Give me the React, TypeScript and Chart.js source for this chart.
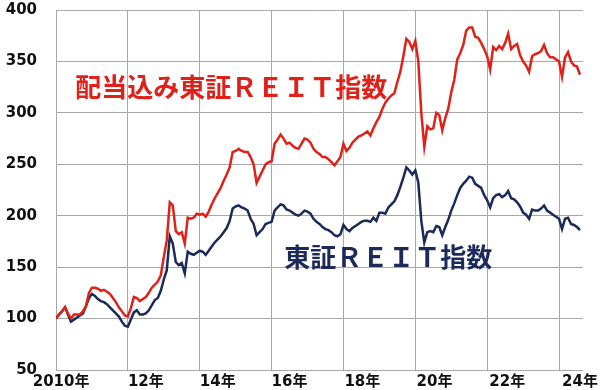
import React, { useEffect, useRef } from "react";
import { Chart, registerables } from "chart.js";

Chart.register(...registerables);

// Monthly values, Jan 2010 = 100, through Aug 2024
const tseReitTotalReturn: number[] = [
  100, 104, 107, 111, 105, 100, 104, 104, 104, 107, 112, 125,
  130, 130, 129, 127, 128, 126, 124, 120, 116, 111, 107, 103,
  102, 110, 121, 120, 117, 119, 121, 125, 130, 133, 136, 142,
  160, 176, 213, 210, 185, 182, 184, 173, 198, 197, 198, 202,
  201, 202, 199, 204, 211, 217, 222, 227, 234, 240, 247, 262,
  263, 265, 263, 262, 262, 257, 250, 232, 238, 244, 250, 252,
  253, 270, 274, 279, 275, 270, 271, 268, 266, 265, 270, 275,
  274, 271, 265, 262, 260, 257, 257, 255, 252, 249, 253, 257,
  270, 263, 266, 271, 274, 277, 278, 280, 282, 278, 285, 291,
  296, 304, 310, 314, 317, 319, 330, 340, 355, 372, 369, 362,
  370, 350, 300, 267, 287, 284, 285, 300, 298, 283, 295, 304,
  320, 332, 352, 358, 366, 380, 383, 383, 374, 373, 368, 362,
  355, 342, 364, 361, 365, 362, 368, 377, 362, 365, 367, 356,
  350, 346, 340, 355, 357, 358, 360, 366, 358, 354, 354, 352,
  350, 335, 354, 359, 350, 346, 345, 337,
];

const tseReitIndex: number[] = [
  100, 104, 107, 111, 104, 97, 99, 101, 103, 105, 112, 120,
  124, 122, 119, 117, 116, 114, 111, 108, 105, 102, 97, 93,
  92, 99, 106, 108, 104, 104, 105, 108, 113, 118, 120, 127,
  138, 147, 180, 173, 155, 152, 154, 144, 165, 163, 162, 164,
  166, 165, 162, 166, 170, 174, 177, 180, 184, 188, 195, 207,
  209, 210, 208, 207, 205, 197, 192, 181, 184, 187, 192, 193,
  194, 205, 208, 211, 210, 206, 205, 203, 201, 200, 202, 205,
  204, 202, 197, 194, 192, 189, 187, 186, 184, 181, 180, 182,
  191, 187, 185, 188, 190, 192, 194, 195, 195, 194, 198, 195,
  203, 203, 202, 208, 211, 214, 220, 228, 237, 247, 244, 240,
  244, 232, 195, 174, 184, 185, 184, 190, 189, 181, 189, 196,
  205, 212, 220, 227, 231, 234, 238, 237, 231, 229, 227, 220,
  215, 208, 217, 220, 221, 218, 220, 224, 217, 216, 213, 209,
  203, 201, 197, 206, 205, 205, 207, 210, 205, 203, 201, 199,
  197, 187, 197, 198, 192, 191, 189, 186,
];

const yearLabels: string[] = ["2010年", "12年", "14年", "16年", "18年", "20年", "22年", "24年"];
const yearLabelMonths: number[] = [1.7, 30, 54, 78, 102.3, 126.4, 150.7, 175];
const yearGridMonths: number[] = [0, 24, 48, 72, 96, 120, 144, 168];

const redLabel = "配当込み東証ＲＥＩＴ指数";
const blueLabel = "東証ＲＥＩＴ指数";

const RED = "#df2119";
const NAVY = "#1b2a58";
const GRID = "#a8a8a8";

export default function App() {
  const ref = useRef<HTMLCanvasElement | null>(null);

  useEffect(() => {
    if (!ref.current) return;
    const textPlugin = {
      id: "seriesText",
      afterDatasetsDraw(chart: any) {
        const { ctx, scales } = chart;
        const xs = scales.x;
        const ys = scales.y;
        ctx.save();
        ctx.font = 'bold 26px "Noto Sans CJK JP", sans-serif';
        ctx.textBaseline = "middle";
        ctx.textAlign = "left";
        ctx.fillStyle = RED;
        ctx.fillText(redLabel, xs.getPixelForValue(6.4), ys.getPixelForValue(325));
        ctx.fillStyle = NAVY;
        ctx.fillText(blueLabel, xs.getPixelForValue(76.2), ys.getPixelForValue(160));
        ctx.restore();
      },
    };

    const zeroPad = (axis: any) => {
      axis.paddingTop = 0;
      axis.paddingBottom = 0;
      axis.paddingLeft = 0;
      axis.paddingRight = 0;
    };

    const chart = new Chart(ref.current, {
      type: "line",
      data: {
        datasets: [
          {
            label: redLabel,
            data: tseReitTotalReturn.map((v, i) => ({ x: i, y: v })),
            borderColor: RED,
            borderWidth: 2.5,
            pointRadius: 0,
            tension: 0,
          },
          {
            label: blueLabel,
            data: tseReitIndex.map((v, i) => ({ x: i, y: v })),
            borderColor: NAVY,
            borderWidth: 2.5,
            pointRadius: 0,
            tension: 0,
          },
        ],
      },
      options: {
        responsive: false,
        animation: false,
        layout: { padding: { top: 10, right: 17, left: 0, bottom: 0 } },
        plugins: { legend: { display: false }, tooltip: { enabled: false } },
        scales: {
          x: {
            type: "linear",
            min: 0,
            max: 176,
            position: "bottom",
            border: { display: false },
            grid: { color: GRID, lineWidth: 1, drawTicks: false },
            ticks: { display: false },
            afterBuildTicks: (axis: any) => {
              axis.ticks = yearGridMonths.map((v) => ({ value: v }));
            },
            afterFit: (axis: any) => {
              axis.height = 0;
              zeroPad(axis);
            },
          },
          xl: {
            type: "linear",
            min: 0,
            max: 176,
            position: "bottom",
            border: { display: false },
            grid: { display: false, drawTicks: false },
            ticks: {
              color: "#111",
              font: { family: '"DejaVu Sans", "Noto Sans CJK JP", sans-serif', size: 15, weight: "bold" },
              padding: 3,
              maxRotation: 0,
              autoSkip: false,
              callback: (value: any) => {
                const k = yearLabelMonths.indexOf(Number(value));
                return k >= 0 ? yearLabels[k] : "";
              },
            },
            afterBuildTicks: (axis: any) => {
              axis.ticks = yearLabelMonths.map((v) => ({ value: v }));
            },
            afterFit: (axis: any) => {
              axis.height = 20;
              zeroPad(axis);
            },
          },
          y: {
            min: 50,
            max: 400,
            border: { display: false },
            grid: { color: GRID, lineWidth: 1, drawTicks: false },
            ticks: {
              stepSize: 50,
              color: "#111",
              padding: 19,
              font: { family: '"DejaVu Sans", sans-serif', size: 15, weight: "bold" },
            },
            afterFit: (axis: any) => {
              axis.width = 56;
              zeroPad(axis);
            },
          },
        },
      },
      plugins: [textPlugin],
    } as any);
    return () => chart.destroy();
  }, []);

  return (
    <div style={{ position: "absolute", left: 0, top: 0, width: 600, height: 390, background: "#fff" }}>
      <canvas ref={ref} width={600} height={390} />
    </div>
  );
}
